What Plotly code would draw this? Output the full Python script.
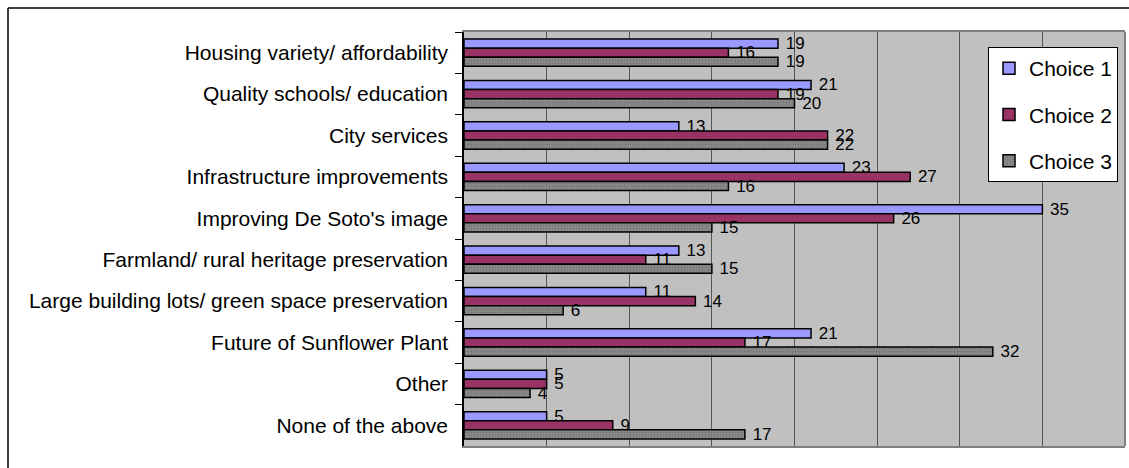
import plotly.graph_objects as go

# Survey: top priorities, counts of first/second/third choices
categories = [
    "Housing variety/ affordability",
    "Quality schools/ education",
    "City services",
    "Infrastructure improvements",
    "Improving De Soto's image",
    "Farmland/ rural heritage preservation",
    "Large building lots/ green space preservation",
    "Future of Sunflower Plant",
    "Other",
    "None of the above",
]
choice_1 = [19, 21, 13, 23, 35, 13, 11, 21, 5, 5]
choice_2 = [16, 19, 22, 27, 26, 11, 14, 17, 5, 9]
choice_3 = [19, 20, 22, 16, 15, 15, 6, 32, 4, 17]

W, H = 1129, 468
L, R, T, B = 464, 1125, 32, 446  # plot area in pixels
PW, PH = R - L, B - T


def px_x(px):
    return (px - L) / PW


def px_y(py):
    return (B - py) / PH


FONT = "Arial, Liberation Sans, sans-serif"

series = [
    ("Choice 1", choice_1, dict(color="#9999FF")),
    ("Choice 2", choice_2, dict(color="#993366")),
    ("Choice 3", choice_3, dict(color="#808080",
                                pattern=dict(shape=".", fgcolor="#5e5e5e",
                                             bgcolor="#8a8a8a", size=3,
                                             solidity=0.35))),
]

fig = go.Figure()
for name, vals, mk in series:
    fig.add_trace(go.Bar(
        name=name,
        x=vals,
        y=categories,
        orientation="h",
        legendgroup=name,
        marker=dict(line=dict(color="#000000", width=1.5), **mk),
        text=vals,
        texttemplate="\u00a0%{x}",
        textposition="outside",
        textangle=0,
        constraintext="none",
        cliponaxis=False,
        textfont=dict(family=FONT, size=17, color="#000000"),
        hoverinfo="x+y+name",
    ))

shapes = [
    # outer chart frame (left and top edges)
    dict(type="line", xref="paper", yref="paper",
         x0=px_x(8), x1=px_x(8), y0=px_y(8), y1=px_y(470),
         line=dict(color="#000000", width=1.5)),
    dict(type="line", xref="paper", yref="paper",
         x0=px_x(8), x1=px_x(1131), y0=px_y(8), y1=px_y(8),
         line=dict(color="#000000", width=1.5)),
    # right edge of plot area
    dict(type="line", xref="paper", yref="paper",
         x0=1, x1=1, y0=0, y1=1,
         line=dict(color="#808080", width=2)),
]

fig.update_layout(
    width=W, height=H,
    margin=dict(l=L, r=W - R, t=T, b=H - B, autoexpand=False),
    paper_bgcolor="#FFFFFF",
    plot_bgcolor="#C0C0C0",
    barmode="group",
    bargap=0.34,
    bargroupgap=0,
    font=dict(family=FONT, size=21, color="#000000"),
    showlegend=True,
    legend=dict(
        x=px_x(988), y=px_y(47), xanchor="left", yanchor="top",
        bgcolor="#FFFFFF", bordercolor="#000000", borderwidth=1,
        font=dict(family=FONT, size=21, color="#000000"),
        traceorder="grouped", tracegroupgap=16,
    ),
    shapes=shapes,
    xaxis=dict(
        range=[0, 40], dtick=5, tick0=0,
        showticklabels=False, ticks="",
        showgrid=True, gridcolor="#555555", gridwidth=1,
        zeroline=False,
        showline=True, linecolor="#808080", linewidth=2, mirror=True,
        fixedrange=True,
    ),
    yaxis=dict(
        categoryorder="array", categoryarray=categories,
        autorange="reversed",
        showgrid=False, zeroline=False,
        showline=True, linecolor="#000000", linewidth=1.5,
        ticks="outside", ticklen=7, tickcolor="#000000", tickwidth=1,
        tickson="boundaries",
        ticklabelstandoff=10,
        tickfont=dict(family=FONT, size=21, color="#000000"),
        fixedrange=True,
    ),
)

fig.write_html("out.html")
